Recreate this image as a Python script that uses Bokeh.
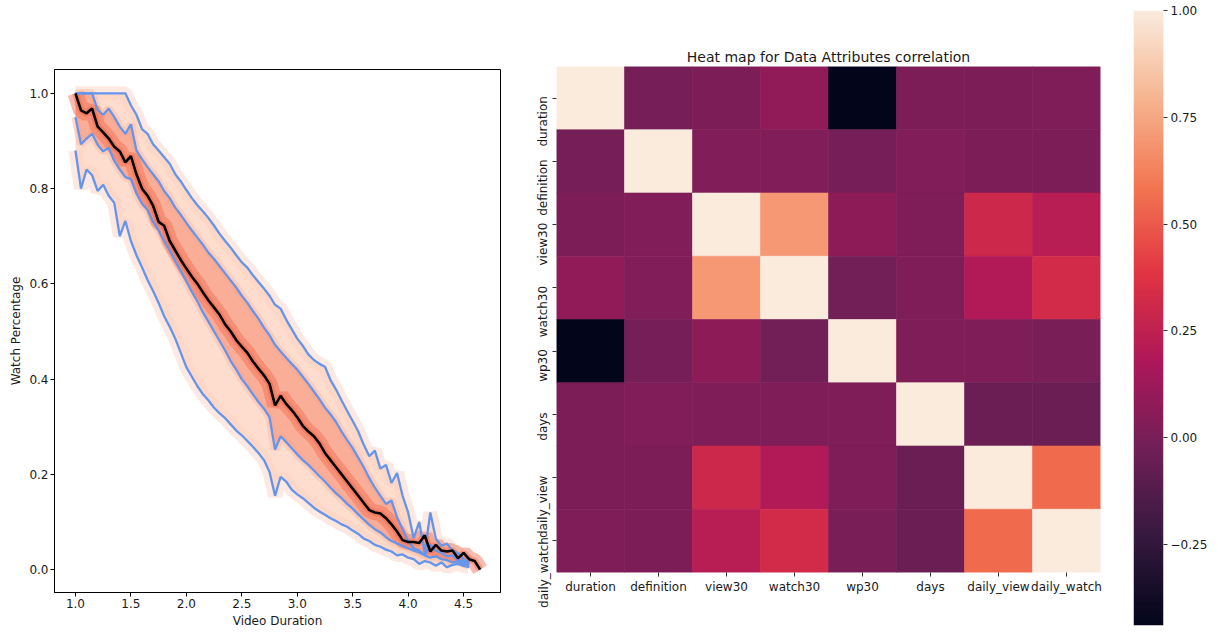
import numpy as np
from bokeh.plotting import figure
from bokeh.layouts import row, column
from bokeh.models import (FixedTicker, PrintfTickFormatter, FactorRange,
                          LinearColorMapper, ColumnDataSource, Range1d, LinearAxis)
from bokeh.embed import file_html
from bokeh.resources import INLINE

# ---------------- data: fan chart (watch percentage vs video duration) -------------
duration_x = [1.00, 1.05, 1.10, 1.15, 1.20, 1.25, 1.30, 1.35, 1.40, 1.45,
              1.50, 1.55, 1.60, 1.65, 1.70, 1.75, 1.80, 1.85, 1.90, 1.95,
              2.00, 2.05, 2.10, 2.15, 2.20, 2.25, 2.30, 2.35, 2.40, 2.45,
              2.50, 2.55, 2.60, 2.65, 2.70, 2.75, 2.80, 2.85, 2.90, 2.95,
              3.00, 3.05, 3.10, 3.15, 3.20, 3.25, 3.30, 3.35, 3.40, 3.45,
              3.50, 3.55, 3.60, 3.65, 3.70, 3.75, 3.80, 3.85, 3.90, 3.95,
              4.00, 4.05, 4.10, 4.15, 4.20, 4.25, 4.30, 4.35, 4.40, 4.45,
              4.50, 4.55, 4.60, 4.65]

q95 = [1.0, 1.0, 1.0, 1.0, 1.0, 1.0, 1.0, 1.0, 1.0, 1.0,
       0.975, 0.955, 0.925, 0.915, 0.893, 0.880, 0.866, 0.852, 0.830, 0.815,
       0.797, 0.780, 0.765, 0.752, 0.738, 0.722, 0.705, 0.690, 0.676, 0.660,
       0.645, 0.634, 0.618, 0.604, 0.590, 0.575, 0.556, 0.548, 0.525, 0.505,
       0.485, 0.470, 0.452, 0.440, 0.432, 0.426, 0.398, 0.378, 0.355, 0.333,
       0.312, 0.290, 0.262, 0.238, 0.250, 0.212, 0.220, 0.182, 0.203, 0.155,
       0.120, 0.066, 0.100, 0.035, 0.120, 0.065, 0.050, 0.055, 0.040, 0.035,
       0.022, 0.015]

q75 = [1.0, 1.0, 1.0, 1.0, 0.965, 0.955, 0.968, 0.950, 0.930, 0.915,
       0.935, 0.880, 0.862, 0.845, 0.830, 0.815, 0.795, 0.780, 0.760, 0.745,
       0.728, 0.712, 0.697, 0.682, 0.665, 0.652, 0.637, 0.622, 0.607, 0.592,
       0.575, 0.560, 0.543, 0.527, 0.508, 0.492, 0.472, 0.458, 0.445, 0.432,
       0.420, 0.405, 0.390, 0.374, 0.358, 0.340, 0.326, 0.310, 0.290, 0.272,
       0.255, 0.235, 0.215, 0.192, 0.172, 0.155, 0.138, 0.145, 0.110, 0.085,
       0.060, 0.045, 0.040, 0.030, 0.052, 0.040, 0.035, 0.028, 0.030, 0.020,
       0.018, 0.010]

q50 = [1.0, 0.964, 0.958, 0.968, 0.930, 0.918, 0.905, 0.888, 0.878, 0.855,
       0.868, 0.830, 0.800, 0.785, 0.764, 0.730, 0.722, 0.690, 0.670, 0.650,
       0.632, 0.615, 0.600, 0.582, 0.565, 0.550, 0.535, 0.515, 0.500, 0.482,
       0.468, 0.455, 0.437, 0.422, 0.408, 0.390, 0.345, 0.365, 0.348, 0.335,
       0.320, 0.302, 0.290, 0.280, 0.265, 0.245, 0.230, 0.215, 0.200, 0.185,
       0.170, 0.155, 0.140, 0.125, 0.120, 0.118, 0.108, 0.095, 0.080, 0.062,
       0.058, 0.058, 0.056, 0.072, 0.038, 0.052, 0.040, 0.038, 0.040, 0.024,
       0.035, 0.022, 0.018, 0.000]

q25 = [0.950, 0.893, 0.905, 0.915, 0.892, 0.878, 0.886, 0.858, 0.840, 0.824,
       0.820, 0.790, 0.768, 0.755, 0.730, 0.712, 0.690, 0.670, 0.648, 0.627,
       0.605, 0.583, 0.563, 0.540, 0.520, 0.500, 0.480, 0.460, 0.438, 0.420,
       0.400, 0.385, 0.368, 0.352, 0.338, 0.320, 0.252, 0.280, 0.268, 0.255,
       0.242, 0.230, 0.220, 0.208, 0.196, 0.185, 0.172, 0.160, 0.150, 0.138,
       0.128, 0.116, 0.105, 0.094, 0.085, 0.078, 0.068, 0.060, 0.055, 0.050,
       0.045, 0.040, 0.036, 0.030, 0.025, 0.028, 0.022, 0.020, 0.015, 0.018,
       0.012, 0.010]

q05 = [0.880, 0.800, 0.840, 0.828, 0.795, 0.808, 0.785, 0.770, 0.700, 0.732,
       0.690, 0.660, 0.635, 0.608, 0.585, 0.560, 0.532, 0.510, 0.485, 0.455,
       0.425, 0.405, 0.385, 0.368, 0.355, 0.340, 0.328, 0.318, 0.305, 0.292,
       0.282, 0.270, 0.258, 0.245, 0.230, 0.205, 0.155, 0.195, 0.185, 0.168,
       0.158, 0.150, 0.140, 0.130, 0.122, 0.115, 0.108, 0.102, 0.095, 0.090,
       0.082, 0.075, 0.065, 0.060, 0.052, 0.048, 0.042, 0.038, 0.030, 0.032,
       0.025, 0.022, 0.012, 0.018, 0.015, 0.008, 0.015, 0.005, 0.010, 0.012,
       0.008, 0.005]

x_ticks = [1.0, 1.5, 2.0, 2.5, 3.0, 3.5, 4.0, 4.5]
y_ticks = [0.0, 0.2, 0.4, 0.6, 0.8, 1.0]

# ---------------- data: correlation heat map -------------
attributes = ["duration", "definition", "view30", "watch30",
              "wp30", "days", "daily_view", "daily_watch"]
r_duration    = [1.00, -0.01, 0.01, 0.08, -0.44, 0.01, 0.01, 0.02]
r_definition  = [-0.01, 1.00, 0.03, 0.03, -0.01, 0.03, 0.01, 0.01]
r_view30      = [0.01, 0.03, 1.00, 0.70, 0.07, 0.02, 0.30, 0.22]
r_watch30     = [0.08, 0.03, 0.70, 1.00, -0.02, 0.02, 0.20, 0.32]
r_wp30        = [-0.44, -0.01, 0.07, -0.02, 1.00, 0.02, 0.02, 0.00]
r_days        = [0.01, 0.03, 0.02, 0.02, 0.02, 1.00, -0.05, -0.05]
r_daily_view  = [0.01, 0.01, 0.30, 0.20, 0.02, -0.05, 1.00, 0.55]
r_daily_watch = [0.02, 0.01, 0.22, 0.32, 0.00, -0.05, 0.55, 1.00]
cbar_ticks = [-0.25, 0.0, 0.25, 0.5, 0.75, 1.0]
cbar_labels = ["\u22120.25", "0.00", "0.25", "0.50", "0.75", "1.00"]
vmin, vmax = -0.44, 1.0

FONT = "DejaVu Sans"
TXT = "#1a1a1a"
FS_PX = 12
FS = "%dpx" % FS_PX

# approximate DejaVu Sans advance widths (em) used to hang the rotated row labels
GLYPH_EM = {"a": .613, "b": .635, "c": .550, "d": .635, "e": .615, "f": .352,
            "h": .634, "i": .278, "l": .278, "n": .634, "o": .612, "p": .635,
            "r": .411, "s": .521, "t": .392, "u": .634, "v": .592, "w": .818,
            "y": .592, "_": .500, "0": .636, "3": .636}

# ---------------- rocket-like colour map -------------
anchor_pos = [0.0, 1/7, 2/7, 3/7, 4/7, 5/7, 6/7, 1.0]
anchor_hex = ["#03051a", "#35193e", "#701f57", "#ad1759",
              "#e13342", "#f37651", "#f6b48f", "#faebdd"]
anc = np.array([[int(h[i:i + 2], 16) for i in (1, 3, 5)] for h in anchor_hex], float)
tt = np.linspace(0, 1, 256)
rgb = np.stack([np.interp(tt, anchor_pos, anc[:, k]) for k in range(3)], axis=1)
rocket = ["#%02x%02x%02x" % tuple(int(round(c)) for c in r) for r in rgb]
mapper = LinearColorMapper(palette=rocket, low=vmin, high=vmax)

# ================= left: fan chart =================
p1 = figure(width=530, height=630, x_range=Range1d(0.811, 4.833),
            y_range=Range1d(-0.048, 1.05), output_backend="svg",
            toolbar_location=None, min_border_left=54, min_border_right=30,
            min_border_top=69, min_border_bottom=37)
xb = duration_x[:len(q95)]
p1.line(xb, q95, line_color="#fde4da", line_width=14, line_alpha=0.8)
p1.line(xb, q05, line_color="#fde4da", line_width=14, line_alpha=0.8)
p1.varea(x=xb, y1=q05, y2=q95, fill_color="#fdd0bd", fill_alpha=0.75)
p1.line(xb, q75, line_color="#fcc0a8", line_width=8, line_alpha=0.6)
p1.line(xb, q25, line_color="#fcc0a8", line_width=8, line_alpha=0.6)
p1.varea(x=xb, y1=q25, y2=q75, fill_color="#fa9f84", fill_alpha=0.75)
p1.line(duration_x, q50, line_color="#f26a4f", line_width=16, line_alpha=0.45)
p1.line(duration_x, q50, line_color="#ef5a40", line_width=7, line_alpha=0.35)
for q in (q95, q75, q25, q05):
    p1.line(xb, q, line_color="#6495ed", line_width=2.3)
p1.line(duration_x, q50, line_color="black", line_width=2.6)

p1.grid.visible = False
p1.outline_line_color = "black"
p1.outline_line_width = 1
p1.xaxis.ticker = FixedTicker(ticks=x_ticks)
p1.yaxis.ticker = FixedTicker(ticks=y_ticks)
p1.xaxis.formatter = PrintfTickFormatter(format="%.1f")
p1.yaxis.formatter = PrintfTickFormatter(format="%.1f")
p1.xaxis.axis_label = "Video Duration"
p1.yaxis.axis_label = "Watch Percentage"
for ax in (p1.xaxis, p1.yaxis):
    ax.axis_line_color = "black"
    ax.major_tick_line_color = "black"
    ax.major_tick_out = 4
    ax.major_tick_in = 0
    ax.minor_tick_line_color = None
    ax.major_label_text_font = FONT
    ax.major_label_text_font_size = FS
    ax.major_label_text_color = TXT
    ax.major_label_standoff = 2
    ax.axis_label_text_font = FONT
    ax.axis_label_text_font_size = FS
    ax.axis_label_text_font_style = "normal"
    ax.axis_label_text_color = TXT
p1.xaxis.axis_label_standoff = 3
p1.yaxis.axis_label_standoff = 3

# ================= middle: heat map =================
n = len(attributes)
rows = [r_duration, r_definition, r_view30, r_watch30,
        r_wp30, r_days, r_daily_view, r_daily_watch]
row_centres = [n - 0.5 - i for i in range(n)]      # duration on top
hx, hy, hv = [], [], []
for ri in range(n):
    for ci, cname in enumerate(attributes):
        hx.append(cname)
        hy.append(row_centres[ri])
        hv.append(rows[ri][ci])
src = ColumnDataSource(dict(x=hx, y=hy, v=hv))

H_TOP, H_BOTTOM = 66, 58
p2 = figure(width=580, height=630, x_range=FactorRange(factors=attributes),
            y_range=Range1d(0, n),
            output_backend="svg", toolbar_location=None,
            min_border_left=26, min_border_right=10,
            min_border_top=H_TOP, min_border_bottom=H_BOTTOM,
            title="Heat map for Data Attributes correlation")
p2.rect(x="x", y="y", width=1, height=1, source=src,
        fill_color={"field": "v", "transform": mapper},
        line_color={"field": "v", "transform": mapper}, line_width=0.6)
p2.grid.visible = False
p2.outline_line_color = None
p2.title.align = "center"
p2.title.text_font = FONT
p2.title.text_font_size = "14px"
p2.title.text_font_style = "normal"
p2.title.text_color = TXT
p2.title.standoff = 3
for ax in (p2.xaxis, p2.yaxis):
    ax.axis_line_color = None
    ax.major_tick_line_color = "#333333"
    ax.major_tick_out = 4
    ax.major_tick_in = 0
    ax.minor_tick_line_color = None
    ax.major_label_text_font = FONT
    ax.major_label_text_font_size = FS
    ax.major_label_text_color = TXT
    ax.major_label_standoff = 3
# y axis keeps the ticks at the row centres; the row names hang below them
p2.yaxis.ticker = FixedTicker(ticks=row_centres)
p2.yaxis.major_label_text_alpha = 0
p2.yaxis.major_label_text_font_size = "1px"
p2.yaxis.major_label_standoff = 0

row_px = (630 - H_TOP - H_BOTTOM) / n
lab_pos, lab_over = [], {}
for i, name in enumerate(attributes):
    length_px = sum(GLYPH_EM.get(ch, .6) for ch in name) * FS_PX
    pos = round(max(row_centres[i] - (length_px / 2 - 2) / row_px, 0.0), 4)
    lab_pos.append(pos)
    lab_over[pos] = name
lab_axis = LinearAxis(ticker=FixedTicker(ticks=lab_pos),
                      major_label_overrides=lab_over)
lab_axis.axis_line_color = None
lab_axis.major_tick_line_color = None
lab_axis.minor_tick_line_color = None
lab_axis.major_tick_out = 0
lab_axis.major_tick_in = 0
lab_axis.major_label_standoff = 2
lab_axis.major_label_orientation = "vertical"
lab_axis.major_label_text_font = FONT
lab_axis.major_label_text_font_size = FS
lab_axis.major_label_text_color = TXT
p2.add_layout(lab_axis, "left")

# ================= right: colour bar =================
grad = np.linspace(vmin, vmax, 512).reshape(512, 1)
p3 = figure(width=100, height=630, x_range=Range1d(0, 1),
            y_range=Range1d(vmin, vmax), output_backend="svg",
            toolbar_location=None, y_axis_location="right",
            min_border_left=23, min_border_right=44,
            min_border_top=10, min_border_bottom=5)
p3.image(image=[grad], x=0, y=vmin, dw=1, dh=vmax - vmin, color_mapper=mapper)
p3.grid.visible = False
p3.outline_line_color = None
p3.xaxis.visible = False
p3.yaxis.ticker = FixedTicker(ticks=cbar_ticks)
p3.yaxis.major_label_overrides = {t: s for t, s in zip(cbar_ticks, cbar_labels)}
p3.yaxis.axis_line_color = None
p3.yaxis.major_tick_line_color = "#333333"
p3.yaxis.major_tick_out = 4
p3.yaxis.major_tick_in = 0
p3.yaxis.minor_tick_line_color = None
p3.yaxis.major_label_text_font = FONT
p3.yaxis.major_label_text_font_size = FS
p3.yaxis.major_label_text_color = TXT
p3.yaxis.major_label_standoff = 3

layout = row(column(p1), column(p2), column(p3))
open("out.html", "w").write(file_html(layout, INLINE))
